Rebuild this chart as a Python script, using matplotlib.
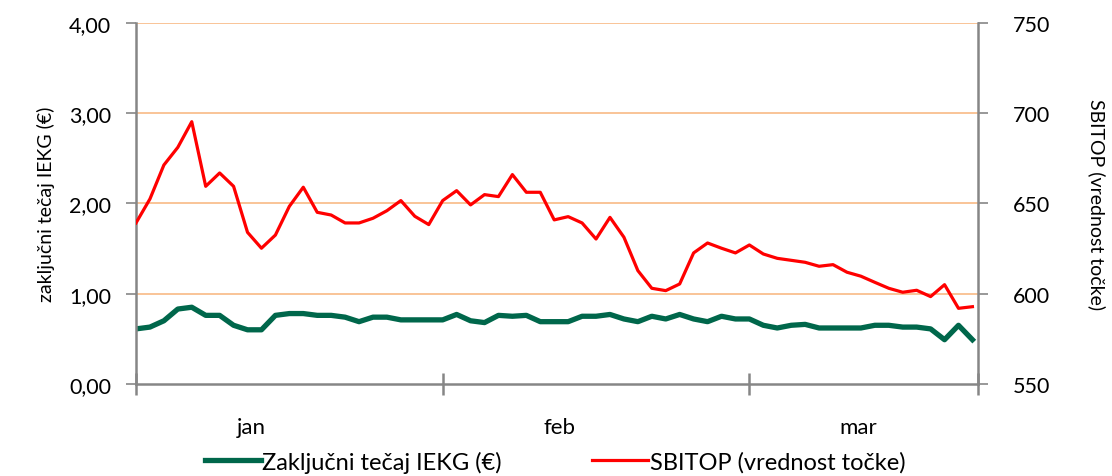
import matplotlib.pyplot as plt
import numpy as np

plt.rcParams['font.family'] = ['Lato', 'DejaVu Sans']

# zaključni tečaj IEKG (€), one value per trading day
iekg = [0.61, 0.63, 0.70, 0.83, 0.85, 0.76, 0.76, 0.65, 0.60, 0.60,
        0.76, 0.78, 0.78, 0.76, 0.76, 0.74, 0.69, 0.74, 0.74, 0.71,
        0.71, 0.71, 0.71, 0.77, 0.70, 0.68, 0.76, 0.75, 0.76, 0.69,
        0.69, 0.69, 0.75, 0.75, 0.77, 0.72, 0.69, 0.75, 0.72, 0.77,
        0.72, 0.69, 0.75, 0.72, 0.72, 0.65, 0.62, 0.65, 0.66, 0.62,
        0.62, 0.62, 0.62, 0.65, 0.65, 0.63, 0.63, 0.61, 0.49, 0.65,
        0.49]

# SBITOP (vrednost točke)
sbitop = [639.2, 652.5, 671.3, 681.1, 695.3, 659.5, 666.9, 659.5, 634.0, 625.2,
          632.5, 648.4, 659.0, 645.1, 643.6, 639.2, 639.2, 641.8, 646.0, 651.6,
          642.9, 638.3, 651.6, 657.1, 649.2, 654.9, 653.8, 666.0, 656.2, 656.2,
          640.9, 642.7, 639.2, 630.3, 642.3, 631.3, 612.8, 603.0, 601.7, 605.4,
          622.6, 628.1, 625.2, 622.6, 627.0, 622.0, 619.6, 618.5, 617.4, 615.2,
          616.1, 611.9, 609.7, 606.3, 603.0, 600.8, 601.9, 598.4, 605.0, 591.9,
          592.8]

months = ['jan', 'feb', 'mar']
month_starts = [0, 22, 44]
month_label_pos = [8.3, 30.4, 51.8]

x = np.arange(len(iekg))
green = '#00674B'
grid_c = '#F9BF8F'
spine_c = '#868686'

fig = plt.figure(figsize=(11.12, 4.77), dpi=100)
ax = fig.add_axes([0.1223, 0.193, 0.7572, 0.7567])
ax2 = ax.twinx()

ax.plot(x, iekg, color=green, lw=3.8, solid_joinstyle='round', label='Zaključni tečaj IEKG (€)')
ax2.plot(x, sbitop, color='#FF0000', lw=2.3, solid_joinstyle='round', label='SBITOP (vrednost točke)')

ax.set_ylim(0, 4)
ax.set_yticks([0, 1, 2, 3, 4])
ax.set_yticklabels(['0,00', '1,00', '2,00', '3,00', '4,00'])
ax2.set_ylim(550, 750)
ax2.set_yticks([550, 600, 650, 700, 750])
ax.set_xlim(0, 60.4)

for v in [1, 2, 3, 4]:
    ax.axhline(v, color=grid_c, lw=1.3, zorder=0)

ax.set_xticks(month_starts + [60.4])
ax.set_xticklabels([])
ax.set_xticks(month_label_pos, minor=True)
ax.set_xticklabels(months, minor=True)
ax.tick_params(axis='x', which='major', direction='inout', length=16, width=1.8, color=spine_c)
ax.tick_params(axis='x', which='minor', length=0, pad=24, labelsize=16)
ax.tick_params(axis='y', direction='out', length=7, width=1.2, color=spine_c, labelsize=15.5, pad=11)
ax2.tick_params(axis='y', direction='out', length=7, width=1.2, color=spine_c, labelsize=15.5, pad=18)

for a in (ax, ax2):
    for s in a.spines.values():
        s.set_visible(False)
ax.spines['left'].set_visible(True)
ax.spines['bottom'].set_visible(True)
ax2.spines['right'].set_visible(True)
for s in (ax.spines['left'], ax.spines['bottom'], ax2.spines['right']):
    s.set_color(spine_c)
    s.set_linewidth(1.8)

ax.set_ylabel('zaključni tečaj IEKG (€)', fontsize=14, labelpad=10)
ax2.set_ylabel('SBITOP (vrednost točke)', fontsize=14, rotation=270, labelpad=40)

h1, l1 = ax.get_legend_handles_labels()
h2, l2 = ax2.get_legend_handles_labels()
fig.legend(h1 + h2, l1 + l2, loc='center', bbox_to_anchor=(0.499, 0.03), ncol=2,
           frameon=False, fontsize=17, handlelength=2.4, handletextpad=0.05,
           columnspacing=3.8)

fig.savefig('out.png', dpi=100)
